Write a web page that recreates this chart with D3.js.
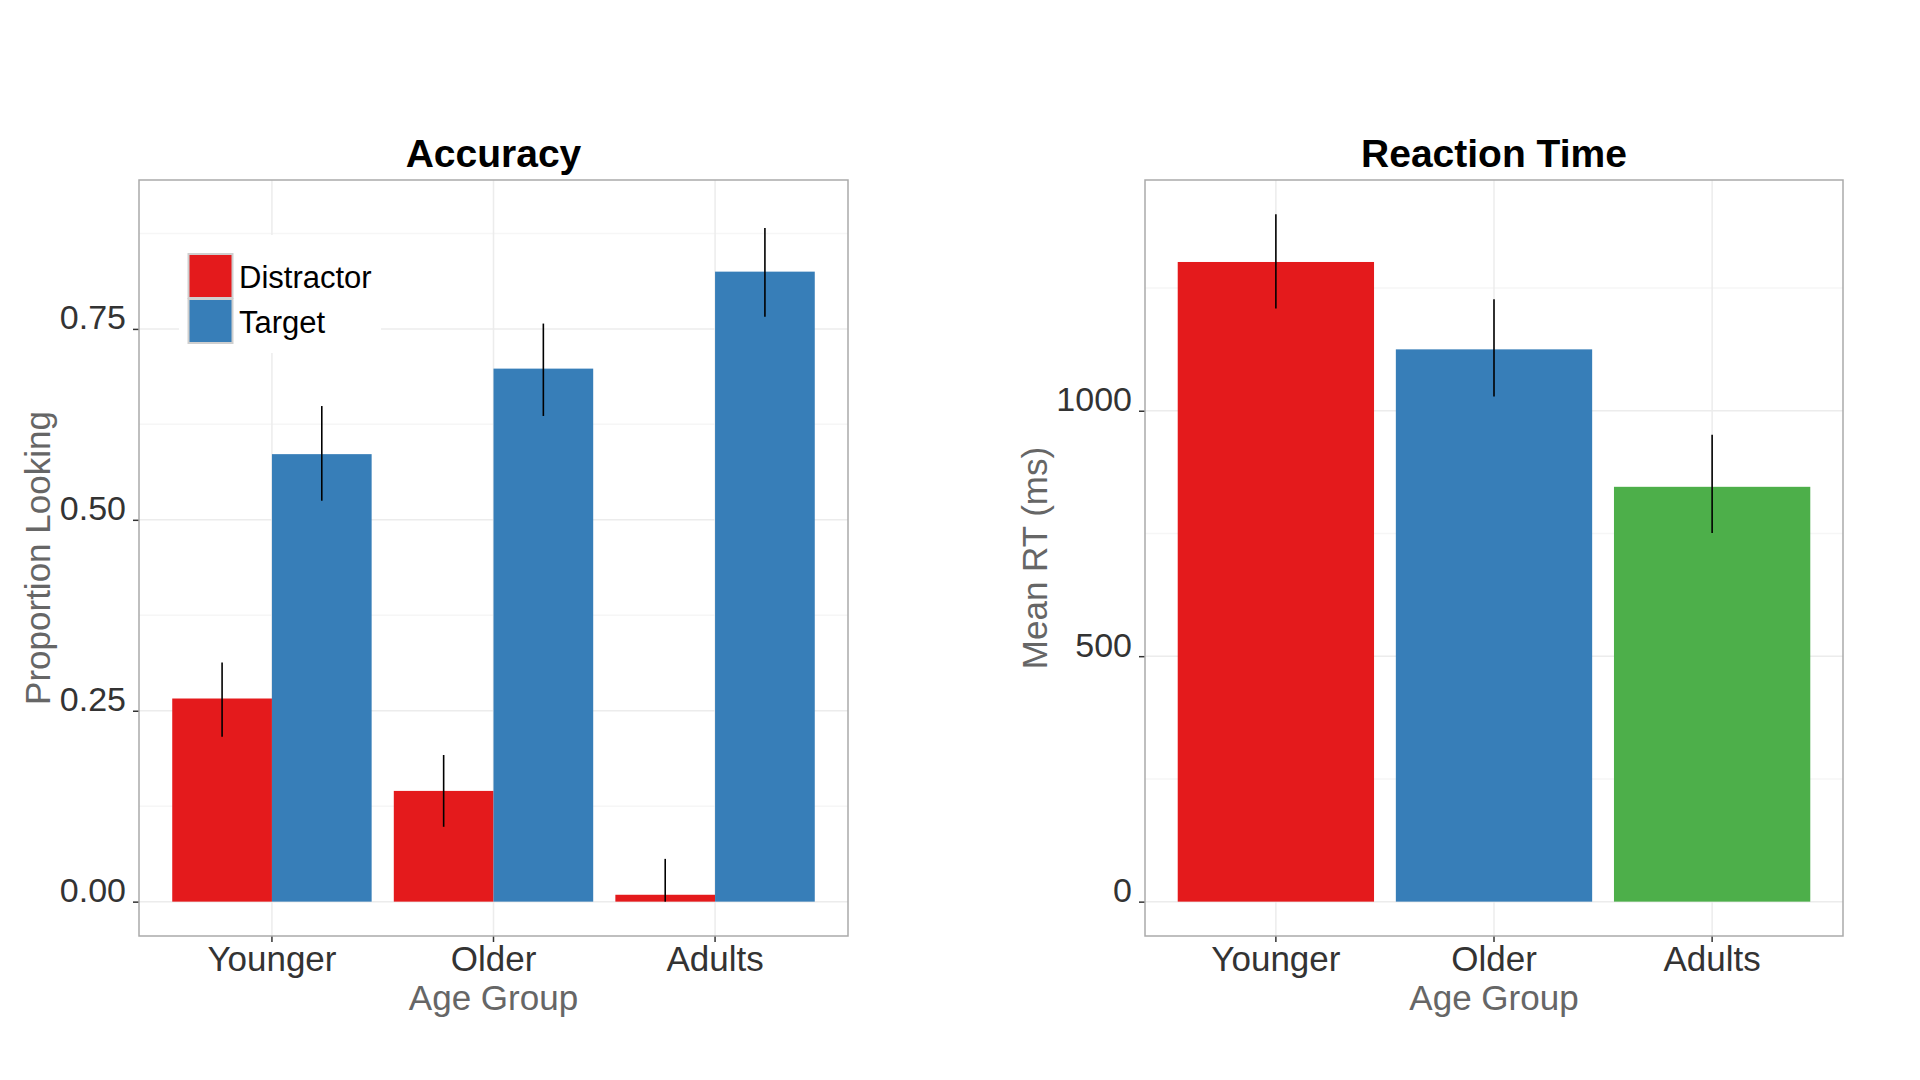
<!DOCTYPE html>
<html>
<head>
<meta charset="utf-8">
<script src="https://cdn.jsdelivr.net/npm/d3@7"></script>
<style>
  body { margin: 0; background: #fff; }
  svg { display: block; }
</style>
</head>
<body>
<div id="chart"></div>
<script>
// Data
// ================================
var ageGroups = ["Younger", "Older", "Adults"];
var lookTypes = ["Distractor", "Target"];

var accDistractor = [0.266, 0.145, 0.009];
var accDistractorLo = [0.216, 0.098, 0.0];
var accDistractorHi = [0.313, 0.192, 0.056];

var accTarget = [0.586, 0.698, 0.825];
var accTargetLo = [0.525, 0.636, 0.766];
var accTargetHi = [0.649, 0.757, 0.882];

var rtMean = [1303, 1125, 845];
var rtLo = [1208, 1029, 751];
var rtHi = [1400, 1227, 951];

var accTicks = [0, 0.25, 0.5, 0.75];
var accMinor = [0.125, 0.375, 0.625, 0.875];
var rtTicks = [0, 500, 1000];
var rtMinor = [250, 750, 1250];

var typeColors = ["#E41A1C", "#377EB8"];
var groupColors = ["#E41A1C", "#377EB8", "#4DAF4A"];

// Set up page
// ================================
var svgWidth = 1920;
var svgHeight = 1080;
var font = "'Liberation Sans', Arial, Helvetica, sans-serif";

var svg = d3.select("#chart")
  .append("svg")
  .attr("width", svgWidth)
  .attr("height", svgHeight)
  .style("font-family", font);

var panelTop = 180;
var panelBottom = 936;

// draws one panel frame: background, grid, axes, titles; returns scales
function drawPanel(left, right, yDomain, ticks, minor, fmt, title, yTitle, yTitleX) {
  var g = svg.append("g");

  var x = d3.scaleBand()
    .domain(ageGroups)
    .range([left, right])
    .paddingInner(0.1)
    .paddingOuter(0.15);

  var y = d3.scaleLinear()
    .domain(yDomain)
    .range([panelBottom, panelTop]);

  g.append("rect")
    .attr("x", left)
    .attr("y", panelTop)
    .attr("width", right - left)
    .attr("height", panelBottom - panelTop)
    .attr("fill", "#fff");

  // minor grid
  g.selectAll("line.minor")
    .data(minor)
    .enter()
    .append("line")
    .attr("x1", left).attr("x2", right)
    .attr("y1", d => y(d)).attr("y2", d => y(d))
    .attr("stroke", "#f6f6f6")
    .attr("stroke-width", 1.5);

  // major grid
  g.selectAll("line.majorY")
    .data(ticks)
    .enter()
    .append("line")
    .attr("x1", left).attr("x2", right)
    .attr("y1", d => y(d)).attr("y2", d => y(d))
    .attr("stroke", "#ececec")
    .attr("stroke-width", 1.5);

  g.selectAll("line.majorX")
    .data(ageGroups)
    .enter()
    .append("line")
    .attr("x1", d => x(d) + x.bandwidth() / 2)
    .attr("x2", d => x(d) + x.bandwidth() / 2)
    .attr("y1", panelTop).attr("y2", panelBottom)
    .attr("stroke", "#ececec")
    .attr("stroke-width", 1.5);

  // y axis
  var leftAxis = d3.axisLeft(y)
    .tickValues(ticks)
    .tickFormat(fmt)
    .tickSize(6)
    .tickPadding(7);

  var ya = svg.append("g")
    .attr("transform", `translate(${left}, 0)`)
    .call(leftAxis);
  ya.select(".domain").remove();
  ya.selectAll("line").attr("stroke", "#333").attr("stroke-width", 1.5);
  ya.selectAll("text")
    .attr("dy", 0)
    .attr("fill", "#333")
    .style("font-size", "34px")
    .style("font-family", font);

  // x axis
  var bottomAxis = d3.axisBottom(x)
    .tickSize(6);

  var xa = svg.append("g")
    .attr("transform", `translate(0, ${panelBottom})`)
    .call(bottomAxis);
  xa.select(".domain").remove();
  xa.selectAll("line").attr("stroke", "#333").attr("stroke-width", 1.5);
  xa.selectAll("text")
    .attr("y", 35)
    .attr("dy", 0)
    .attr("fill", "#333")
    .style("font-size", "35px")
    .style("font-family", font);

  // titles
  var cx = (left + right) / 2;
  svg.append("text")
    .attr("x", cx)
    .attr("y", 167)
    .attr("text-anchor", "middle")
    .attr("font-weight", "bold")
    .attr("font-size", "39px")
    .attr("fill", "#000")
    .text(title);

  svg.append("text")
    .attr("x", cx)
    .attr("y", 1010)
    .attr("text-anchor", "middle")
    .attr("font-size", "35px")
    .attr("fill", "#666")
    .text("Age Group");

  svg.append("text")
    .attr("transform", `translate(${yTitleX}, ${(panelTop + panelBottom) / 2}) rotate(-90)`)
    .attr("text-anchor", "middle")
    .attr("font-size", "35px")
    .attr("fill", "#666")
    .text(yTitle);

  return { x: x, y: y, left: left, right: right, g: g };
}

function drawBorder(p) {
  svg.append("rect")
    .attr("x", p.left)
    .attr("y", panelTop)
    .attr("width", p.right - p.left)
    .attr("height", panelBottom - panelTop)
    .attr("fill", "none")
    .attr("stroke", "#aaa")
    .attr("stroke-width", 1.5);
}

// Accuracy panel
// ================================
var acc = drawPanel(139, 848, [-0.045, 0.945], accTicks, accMinor,
  d3.format(".2f"), "Accuracy", "Proportion Looking", 50);

var xType = d3.scaleBand()
  .domain(lookTypes)
  .range([0, acc.x.bandwidth()]);

var accRows = [];
ageGroups.forEach(function (grp, i) {
  accRows.push({ group: grp, type: "Distractor", value: accDistractor[i], lo: accDistractorLo[i], hi: accDistractorHi[i] });
  accRows.push({ group: grp, type: "Target", value: accTarget[i], lo: accTargetLo[i], hi: accTargetHi[i] });
});

var accColor = d3.scaleOrdinal().domain(lookTypes).range(typeColors);

acc.g.selectAll("rect.bar")
  .data(accRows)
  .enter()
  .append("rect")
  .attr("class", "bar")
  .attr("x", d => acc.x(d.group) + xType(d.type))
  .attr("width", xType.bandwidth())
  .attr("y", d => acc.y(d.value))
  .attr("height", d => acc.y(0) - acc.y(d.value))
  .attr("fill", d => accColor(d.type));

acc.g.selectAll("line.err")
  .data(accRows)
  .enter()
  .append("line")
  .attr("x1", d => acc.x(d.group) + xType(d.type) + xType.bandwidth() / 2)
  .attr("x2", d => acc.x(d.group) + xType(d.type) + xType.bandwidth() / 2)
  .attr("y1", d => acc.y(d.lo))
  .attr("y2", d => acc.y(d.hi))
  .attr("stroke", "#000")
  .attr("stroke-width", 1.6);

// legend
var legend = acc.g.append("g");
legend.append("rect")
  .attr("x", 179).attr("y", 235)
  .attr("width", 202).attr("height", 118)
  .attr("fill", "#fff");

var keyH = 45;
legend.selectAll("rect.key")
  .data(lookTypes)
  .enter()
  .append("rect")
  .attr("x", 188.5)
  .attr("y", (d, i) => 254 + i * keyH)
  .attr("width", 44)
  .attr("height", keyH - 1)
  .attr("fill", d => accColor(d))
  .attr("stroke", "#cfcfcf")
  .attr("stroke-width", 2);

legend.selectAll("text.key")
  .data(lookTypes)
  .enter()
  .append("text")
  .attr("x", 239)
  .attr("y", (d, i) => 254 + i * keyH + keyH / 2)
  .attr("dy", "0.36em")
  .attr("font-size", "31px")
  .attr("fill", "#000")
  .text(d => d);

drawBorder(acc);

// Reaction time panel
// ================================
var rt = drawPanel(1145, 1843, [-70, 1470], rtTicks, rtMinor,
  d3.format("d"), "Reaction Time", "Mean RT (ms)", 1047);

var rtRows = ageGroups.map(function (grp, i) {
  return { group: grp, value: rtMean[i], lo: rtLo[i], hi: rtHi[i], color: groupColors[i] };
});

rt.g.selectAll("rect.bar")
  .data(rtRows)
  .enter()
  .append("rect")
  .attr("x", d => rt.x(d.group))
  .attr("width", rt.x.bandwidth())
  .attr("y", d => rt.y(d.value))
  .attr("height", d => rt.y(0) - rt.y(d.value))
  .attr("fill", d => d.color);

rt.g.selectAll("line.err")
  .data(rtRows)
  .enter()
  .append("line")
  .attr("x1", d => rt.x(d.group) + rt.x.bandwidth() / 2)
  .attr("x2", d => rt.x(d.group) + rt.x.bandwidth() / 2)
  .attr("y1", d => rt.y(d.lo))
  .attr("y2", d => rt.y(d.hi))
  .attr("stroke", "#000")
  .attr("stroke-width", 1.6);

drawBorder(rt);
</script>
</body>
</html>
